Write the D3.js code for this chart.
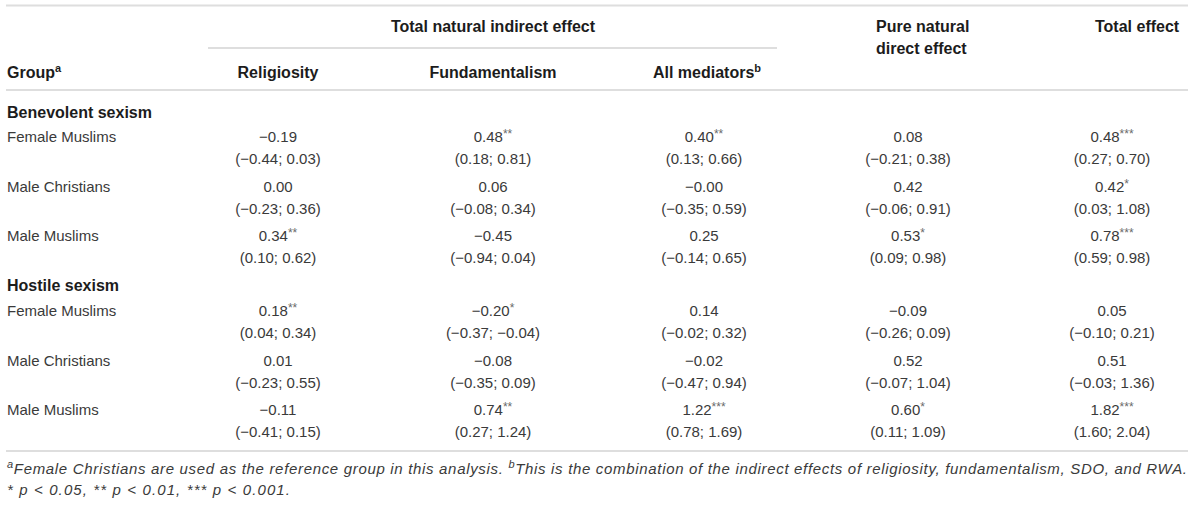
<!DOCTYPE html>
<html>
<head>
<meta charset="utf-8">
<script src="https://cdn.jsdelivr.net/npm/d3@7"></script>
<style>
  html, body { margin: 0; padding: 0; background: #fff; }
  svg { display: block; font-family: "Liberation Sans", Arial, sans-serif; }
</style>
</head>
<body>
<svg id="table" width="1200" height="506"></svg>
<script>
// table content
const outcomes = ["Benevolent sexism", "Hostile sexism"];
const groups = ["Female Muslims", "Male Christians", "Male Muslims"];
const columns = ["Religiosity", "Fundamentalism", "All mediators", "Pure natural direct effect", "Total effect"];

// point estimates, rows = groups, cols = columns
const benevolentEst = [
  [-0.19, 0.48, 0.40, 0.08, 0.48],
  [0.00, 0.06, -0.00, 0.42, 0.42],
  [0.34, -0.45, 0.25, 0.53, 0.78]
];
const benevolentLow = [
  [-0.44, 0.18, 0.13, -0.21, 0.27],
  [-0.23, -0.08, -0.35, -0.06, 0.03],
  [0.10, -0.94, -0.14, 0.09, 0.59]
];
const benevolentHigh = [
  [0.03, 0.81, 0.66, 0.38, 0.70],
  [0.36, 0.34, 0.59, 0.91, 1.08],
  [0.62, 0.04, 0.65, 0.98, 0.98]
];
const benevolentStars = [
  [0, 2, 2, 0, 3],
  [0, 0, 0, 0, 1],
  [2, 0, 0, 1, 3]
];

const hostileEst = [
  [0.18, -0.20, 0.14, -0.09, 0.05],
  [0.01, -0.08, -0.02, 0.52, 0.51],
  [-0.11, 0.74, 1.22, 0.60, 1.82]
];
const hostileLow = [
  [0.04, -0.37, -0.02, -0.26, -0.10],
  [-0.23, -0.35, -0.47, -0.07, -0.03],
  [-0.41, 0.27, 0.78, 0.11, 1.60]
];
const hostileHigh = [
  [0.34, -0.04, 0.32, 0.09, 0.21],
  [0.55, 0.09, 0.94, 1.04, 1.36],
  [0.15, 1.24, 1.69, 1.09, 2.04]
];
const hostileStars = [
  [2, 1, 0, 0, 0],
  [0, 0, 0, 0, 0],
  [0, 2, 3, 1, 3]
];

const footnoteA = "Female Christians are used as the reference group in this analysis. ";
const footnoteB = "This is the combination of the indirect effects of religiosity, fundamentalism, SDO, and RWA.";
const footnoteP = "* p < 0.05, ** p < 0.01, *** p < 0.001.";

// layout
const svg = d3.select("#table");
const fmtAbs = d3.format(".2f");
// keep the sign of negative zero ("−0.00" in the source)
const fmt = v => (v < 0 || Object.is(v, -0) ? "\u2212" : "") + fmtAbs(Math.abs(v));
const ruleColor = "#dedede";
const bodyColor = "#3a3a3a";
const headColor = "#1c1c1c";

const x = d3.scaleOrdinal().domain(columns).range([278, 493, 704, 908, 1112]);
// row slots: section header at 0 and 7, groups at 1,3,5 and 8,10,12
const y = d3.scaleLinear().domain([0, 12]).range([112, 410]);
const lineGap = 22;

const blocks = [
  { title: outcomes[0], slot: 0, est: benevolentEst, low: benevolentLow, high: benevolentHigh, stars: benevolentStars },
  { title: outcomes[1], slot: 7, est: hostileEst, low: hostileLow, high: hostileHigh, stars: hostileStars }
];

// rules
const rules = [
  { x1: 6, x2: 1188, y: 5.5 },
  { x1: 208, x2: 777, y: 48 },
  { x1: 6, x2: 1188, y: 90 },
  { x1: 6, x2: 1188, y: 451 }
];
svg.selectAll("line.rule")
  .data(rules)
  .join("line")
  .attr("class", "rule")
  .attr("x1", d => d.x1)
  .attr("x2", d => d.x2)
  .attr("y1", d => d.y)
  .attr("y2", d => d.y)
  .attr("stroke", ruleColor)
  .attr("stroke-width", 2);

// header
function headText(tx, ty, anchor, str, sup) {
  const t = svg.append("text")
    .attr("x", tx)
    .attr("y", ty)
    .attr("dy", "0.35em")
    .attr("text-anchor", anchor)
    .attr("fill", headColor)
    .style("font-size", "16px")
    .style("font-weight", "bold")
    .text(str);
  if (sup) {
    t.append("tspan")
      .attr("baseline-shift", "super")
      .style("font-size", "11px")
      .text(sup);
  }
  return t;
}

headText(493, 26, "middle", "Total natural indirect effect");
headText(876, 26, "start", "Pure natural");
headText(876, 48, "start", "direct effect");
headText(1095, 26, "start", columns[4]);
headText(7, 72, "start", "Group", "a");
headText(x(columns[0]), 72, "middle", columns[0]);
headText(x(columns[1]), 72, "middle", columns[1]);
headText(x(columns[2]) + 3, 72, "middle", columns[2], "b");

// body
blocks.forEach(b => {
  headText(7, y(b.slot), "start", b.title);

  groups.forEach((g, i) => {
    const rowY = y(b.slot + 1 + i * 2);

    svg.append("text")
      .attr("x", 7)
      .attr("y", rowY)
      .attr("dy", "0.35em")
      .attr("fill", bodyColor)
      .style("font-size", "15px")
      .text(g);

    const cells = columns.map((c, j) => ({
      col: c,
      est: b.est[i][j],
      low: b.low[i][j],
      high: b.high[i][j],
      stars: b.stars[i][j]
    }));

    const est = svg.append("g").selectAll("text")
      .data(cells)
      .join("text")
      .attr("x", d => x(d.col))
      .attr("y", rowY)
      .attr("dy", "0.35em")
      .attr("text-anchor", "middle")
      .attr("fill", bodyColor)
      .style("font-size", "15px")
      .text(d => fmt(d.est));
    est.filter(d => d.stars > 0)
      .append("tspan")
      .attr("baseline-shift", "30%")
      .attr("fill", "#6a6a6a")
      .style("font-size", "12px")
      .text(d => "*".repeat(d.stars));

    svg.append("g").selectAll("text")
      .data(cells)
      .join("text")
      .attr("x", d => x(d.col))
      .attr("y", rowY + lineGap)
      .attr("dy", "0.35em")
      .attr("text-anchor", "middle")
      .attr("fill", bodyColor)
      .style("font-size", "15px")
      .text(d => `(${fmt(d.low)}; ${fmt(d.high)})`);
  });
});

// footnotes
const fn1 = svg.append("text")
  .attr("x", 7)
  .attr("y", 469)
  .attr("dy", "0.35em")
  .attr("fill", bodyColor)
  .attr("textLength", 1180)
  .attr("lengthAdjust", "spacing")
  .style("font-size", "15px")
  .style("font-style", "italic");
fn1.append("tspan").attr("baseline-shift", "super").style("font-size", "11px").text("a");
fn1.append("tspan").text(footnoteA);
fn1.append("tspan").attr("baseline-shift", "super").style("font-size", "11px").text("b");
fn1.append("tspan").text(footnoteB);

svg.append("text")
  .attr("x", 7)
  .attr("y", 490)
  .attr("dy", "0.35em")
  .attr("fill", bodyColor)
  .attr("textLength", 283)
  .attr("lengthAdjust", "spacing")
  .style("font-size", "15px")
  .style("font-style", "italic")
  .text(footnoteP);
</script>
</body>
</html>
